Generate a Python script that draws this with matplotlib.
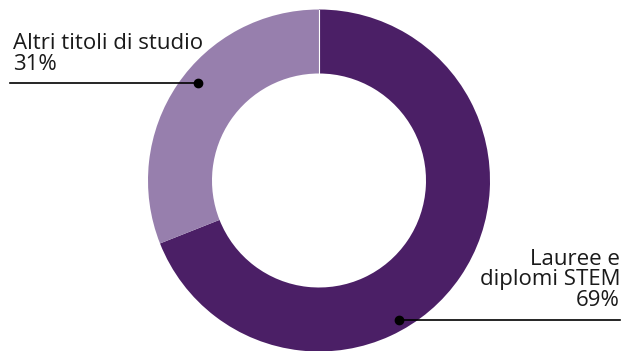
import matplotlib
matplotlib.use("Agg")
import matplotlib.pyplot as plt

categories = ["Lauree e\ndiplomi STEM", "Altri titoli di studio"]
values = [69, 31]
pct_labels = ["69%", "31%"]
colors = ["#4b1f66", "#977fad"]

W, H = 630, 351
fig = plt.figure(figsize=(W / 100, H / 100), dpi=100)
ax = fig.add_axes([0, 0, 1, 1])
ax.set_xlim(0, W)
ax.set_ylim(0, H)
ax.axis("off")

cx, cy = 319, H - 180.5
R, r = 171, 107
wedges, _ = ax.pie(values, colors=colors, startangle=90, counterclock=False,
                   center=(cx, cy), radius=R,
                   wedgeprops=dict(width=R - r, linewidth=0))
ax.plot([cx, cx], [cy + r, cy + R], color="white", lw=0.8)
ax.set_xlim(0, W)
ax.set_ylim(0, H)
ax.set_aspect("equal")

font = "Open Sans"
fs = 16
# left label
ax.text(13, H - 70, categories[1] + "\n" + pct_labels[1], ha="left", va="baseline",
        fontsize=fs, family=font, color="#1a1a1a", linespacing=0.98)
ax.plot([10, 198], [H - 83, H - 83], color="black", lw=1.2)
ax.plot([198], [H - 83], "o", color="black", ms=6)
# right label
ax.text(620, H - 306, categories[0] + "\n" + pct_labels[0], ha="right", va="baseline",
        fontsize=fs, family=font, color="#1a1a1a", linespacing=0.98, multialignment="right")
ax.plot([399, 620], [H - 320, H - 320], color="black", lw=1.2)
ax.plot([399], [H - 320], "o", color="black", ms=6)

fig.savefig("out.png", dpi=100)
